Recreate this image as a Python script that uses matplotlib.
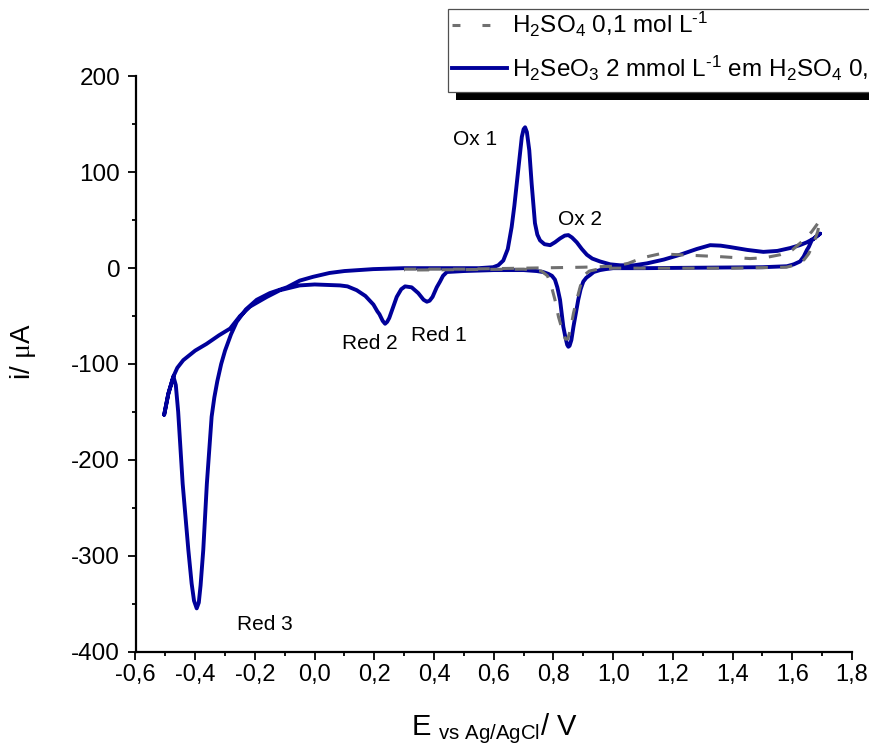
import matplotlib
matplotlib.use("Agg")
import matplotlib.pyplot as plt
from matplotlib.patches import Rectangle
from matplotlib.lines import Line2D
from matplotlib.ticker import MultipleLocator, FuncFormatter

plt.rcParams['font.family'] = ['Liberation Sans', 'DejaVu Sans']
plt.rcParams['mathtext.fontset'] = 'custom'
plt.rcParams['mathtext.rm'] = 'Liberation Sans'
plt.rcParams['mathtext.it'] = 'Liberation Serif'
plt.rcParams['mathtext.default'] = 'rm'

# voltammogram of H2SeO3 in H2SO4: cathodic sweep from 1.7 V, then anodic sweep back
se_E = [1.693, 1.680, 1.665, 1.655, 1.649, 1.638, 1.626, 1.605, 1.582, 1.50, 1.30, 1.10, 1.00,
        0.975, 0.956, 0.935, 0.923, 0.910, 0.900, 0.891, 0.883, 0.875, 0.867, 0.860, 0.854, 0.850,
        0.846, 0.840, 0.833, 0.827, 0.822, 0.813, 0.805, 0.795, 0.783, 0.765, 0.744, 0.70, 0.60,
        0.50, 0.443, 0.43, 0.42, 0.409, 0.395, 0.385, 0.376, 0.365, 0.347, 0.325, 0.303, 0.290,
        0.275, 0.260, 0.250, 0.243, 0.236, 0.228, 0.217, 0.21, 0.197, 0.17, 0.141, 0.11, 0.085,
        0.0, -0.05, -0.116, -0.16, -0.216, -0.25, -0.283, -0.32, -0.362, -0.40, -0.44, -0.46,
        -0.473, -0.49, -0.504,
        -0.49, -0.473, -0.465, -0.457, -0.45, -0.442, -0.432, -0.423, -0.412, -0.404, -0.395,
        -0.388, -0.382, -0.373, -0.361, -0.353, -0.345, -0.336, -0.326, -0.313, -0.300, -0.280,
        -0.261, -0.23, -0.194, -0.15, -0.093, -0.05, -0.005, 0.05, 0.10, 0.196, 0.30, 0.45, 0.55,
        0.598, 0.615, 0.632, 0.647, 0.66, 0.669, 0.677, 0.686, 0.694, 0.70, 0.705, 0.711, 0.719,
        0.727, 0.733, 0.738, 0.746, 0.755, 0.77, 0.789, 0.805, 0.822, 0.838, 0.85, 0.862, 0.878,
        0.895, 0.912, 0.93, 0.956, 0.99, 1.023, 1.07, 1.113, 1.17, 1.224, 1.28, 1.325, 1.36,
        1.392, 1.45, 1.503, 1.55, 1.593, 1.625, 1.649, 1.673, 1.693]
se_i = [36, 33, 29, 22, 19, 12, 7, 4, 2, 1, 0.5, 0, 0,
        -1, -2, -4, -7, -10, -14, -22, -33, -47, -61, -75, -81, -82,
        -80, -72, -61, -46, -33, -20, -12, -8, -6, -4, -3, -2, -2,
        -3, -4, -8, -14, -20, -30, -34, -35, -33, -26, -20, -19, -22,
        -30, -43, -52, -56, -58, -55, -48, -45, -38, -29, -23, -19, -18,
        -17, -18, -23, -30, -40, -50, -63, -70, -79, -86, -96, -104,
        -113, -131, -153,
        -131, -113, -122, -150, -185, -225, -262, -294, -329, -347, -355,
        -349, -331, -294, -225, -190, -155, -135, -118, -100, -86, -69,
        -56, -43, -33, -26, -20, -13, -9, -5, -3, -1, 0, 0, 0,
        1, 3, 8, 20, 43, 65, 88, 113, 137, 145, 147, 142, 123,
        88, 65, 47, 35, 29, 25, 24, 27, 31, 34, 34.5, 32, 27,
        20, 14, 10, 7, 4, 3, 3, 5, 9, 14, 20, 24, 23.5,
        22, 19, 17, 18, 21, 24, 27, 31, 36]

# supporting electrolyte alone
blank_E = [0.30, 0.50, 0.70, 0.80, 0.90, 1.00, 1.05, 1.10, 1.157, 1.22, 1.29, 1.358, 1.41, 1.459,
           1.51, 1.559, 1.60, 1.637, 1.665, 1.693,
           1.685, 1.67, 1.655, 1.64, 1.62, 1.58, 1.40, 1.20, 1.00, 0.95, 0.92, 0.90, 0.889, 0.878,
           0.867, 0.857, 0.848, 0.840, 0.83, 0.817, 0.805, 0.794, 0.78, 0.76, 0.70, 0.50, 0.30]
blank_i = [-1, -1, 0, 0.5, 1, 2, 5, 11, 15, 14, 13, 12, 11, 10,
           11, 14, 19, 29, 38, 50,
           38, 25, 15, 9, 4, 1, 0, 0, 0, -1, -3, -8, -20, -33,
           -47, -64, -74, -74, -65, -51, -33, -20, -8, -3, -1, -1.5, -2]

# peak labels: (text, E, i)
peak_labels = [("Ox 1", 0.539, 129), ("Ox 2", 0.889, 45), ("Red 1", 0.416, -76),
               ("Red 2", 0.184, -84), ("Red 3", -0.168, -378)]

legend_labels = [r'H$_2$SO$_4$ 0,1 mol L$^{‐1}$',
                 r'H$_2$SeO$_3$ 2 mmol L$^{‐1}$ em H$_2$SO$_4$ 0,1 mol L$^{‐1}$']

blue = '#00009A'
gray = '#707070'

W, H = 869, 747
fig = plt.figure(figsize=(W / 100, H / 100), dpi=100)
ax = fig.add_axes([135.5 / W, 1 - 651.5 / H, (852 - 135.5) / W, 575 / H])

ax.plot(se_E, se_i, color=blue, lw=2.8, solid_capstyle='round', solid_joinstyle='round', zorder=2)
ax.plot(blank_E, blank_i, color=gray, lw=2.2, dashes=(4, 4), zorder=3)

for txt, e, i in peak_labels:
    ax.text(e, i, txt, ha='center', va='baseline', fontsize=15)

ax.set_xlim(-0.6, 1.8)
ax.set_ylim(-400, 200)
ax.spines['top'].set_visible(False)
ax.spines['right'].set_visible(False)
for s in ('left', 'bottom'):
    ax.spines[s].set_linewidth(1.6)

ax.xaxis.set_major_locator(MultipleLocator(0.2))
ax.xaxis.set_minor_locator(MultipleLocator(0.1))
ax.yaxis.set_major_locator(MultipleLocator(100))
ax.yaxis.set_minor_locator(MultipleLocator(50))
ax.xaxis.set_major_formatter(FuncFormatter(lambda v, p: f'{round(v, 1) + 0.0:.1f}'.replace('.', ',')))
ax.yaxis.set_major_formatter(FuncFormatter(lambda v, p: f'{v:.0f}'))
ax.tick_params(which='major', length=6, width=1.3, pad=5)
ax.tick_params(which='minor', length=3, width=1.3)
ax.tick_params(axis='y', labelsize=17.5)
ax.tick_params(axis='x', labelsize=17, pad=3)

fig.text(494 / W, 1 - 735 / H, r'E $_{\mathrm{vs\ Ag/AgCl}}$/ V', ha='center', va='baseline', fontsize=21)
fig.text(23 / W, 1 - 352 / H, r'i/ $\mathit{\mu}$A', rotation=90, ha='center', va='center', fontsize=20)

# legend box with a solid shadow, running off the right edge
box_h = 82.4 / H
fig.add_artist(Rectangle((456 / W, 1 - 100 / H), 0.6, box_h, transform=fig.transFigure,
                         facecolor='black', edgecolor='none', zorder=5))
fig.add_artist(Rectangle((448.3 / W, 1 - 91.7 / H), 0.6, box_h, transform=fig.transFigure,
                         facecolor='white', edgecolor='#505050', lw=0.9, zorder=6))
fig.add_artist(Line2D([451.7 / W, 495 / W], [1 - 25 / H] * 2, transform=fig.transFigure,
                      color=gray, lw=2.2, dashes=(2.6, 7.2), zorder=7))
fig.add_artist(Line2D([451.7 / W, 506.7 / W], [1 - 68.3 / H] * 2, transform=fig.transFigure,
                      color=blue, lw=2.8, zorder=7))
fig.text(511.7 / W, 1 - 33.3 / H, legend_labels[0], ha='left', va='baseline', fontsize=17.5, zorder=8)
fig.text(511.7 / W, 1 - 77.3 / H, legend_labels[1], ha='left', va='baseline', fontsize=17.5, zorder=8)

fig.savefig('out.png', dpi=100)
